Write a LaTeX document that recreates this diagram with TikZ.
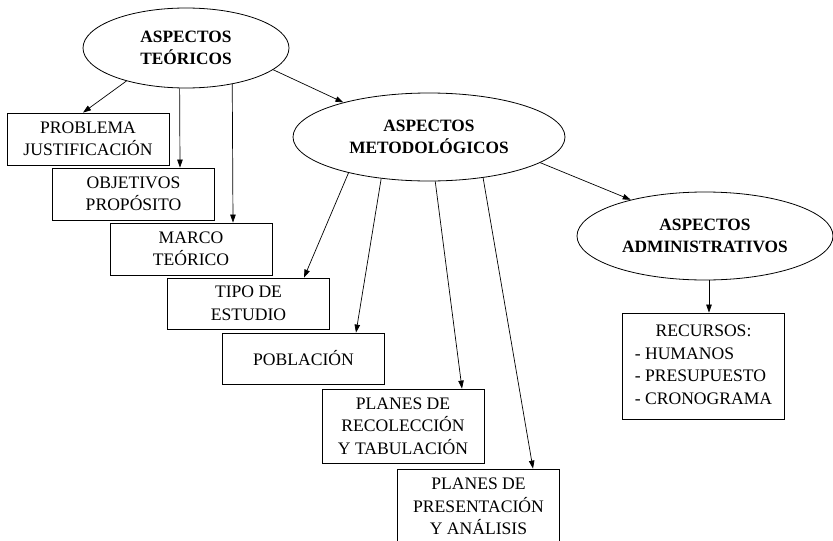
\documentclass[tikz,border=0pt]{standalone}
\usepackage{fontspec}
\setmainfont{Liberation Serif}
\usetikzlibrary{shapes.geometric,arrows.meta}
\begin{document}
\begin{tikzpicture}[x=1pt,y=-1pt,
  every node/.style={font=\fontsize{17.6}{22.5}\selectfont, align=center, inner sep=0pt},
  topic/.style={draw, line width=0.8pt, ellipse, font=\fontsize{17.3}{22.5}\selectfont\bfseries},
  item/.style={draw, line width=0.8pt, rectangle, minimum width=162pt},
  link/.style={line width=0.7pt, -{Triangle[length=8pt,width=5.5pt]}}]
\useasboundingbox (0,0) rectangle (833,541);

% main topics
\node[topic, minimum width=206pt, minimum height=80pt] (T) at (186,48) {ASPECTOS\\TEÓRICOS};
\node[topic, minimum width=272pt, minimum height=88pt] (M) at (429,137) {ASPECTOS\\METODOLÓGICOS};
\node[topic, minimum width=256pt, minimum height=88pt] (A) at (705,236) {ASPECTOS\\ADMINISTRATIVOS};

% theoretical items
\node[item, minimum height=52pt] (PROB) at (88,139) {PROBLEMA\\JUSTIFICACIÓN};
\node[item, minimum height=52pt] (OBJ) at (133.5,194) {OBJETIVOS\\PROPÓSITO};
\node[item, minimum height=52pt] (MARCO) at (191,249) {MARCO\\TEÓRICO};

% methodological items
\node[item, minimum height=51pt] (TIPO) at (248.5,303.5) {TIPO DE\\ESTUDIO};
\node[item, minimum height=51pt] (POB) at (303.5,358.5) {POBLACIÓN};
\node[item, minimum height=74pt] (RECOL) at (403,426) {PLANES DE\\RECOLECCIÓN\\Y TABULACIÓN};
\node[item, minimum height=75pt] (PRES) at (478.5,506.5) {PLANES DE\\PRESENTACIÓN\\Y ANÁLISIS};

% administrative item
\node[item, minimum height=106pt] (REC) at (703.5,366)
  {\begin{tabular}{@{}l@{}}\multicolumn{1}{@{}c@{}}{RECURSOS:}\\- HUMANOS\\- PRESUPUESTO\\- CRONOGRAMA\end{tabular}};

% connectors
\draw[link] (T.209) -- ([xshift=-5pt]PROB.north);
\draw[link] (T.261.5) -- ([xshift=46.5pt]OBJ.north);
\draw[link] (T.322.5) -- ([xshift=42pt]MARCO.north);
\draw[link] (T.346.4) -- (M.158.5);

\draw[link] (M.204.5) -- ([xshift=55.5pt]TIPO.north);
\draw[link] (M.221.8) -- ([xshift=52.5pt]POB.north);
\draw[link] (M.278) -- ([xshift=59pt]RECOL.north);
\draw[link] (M.323) -- ([xshift=54.5pt]PRES.north);
\draw[link] (M.347) -- (A.154.6);

\draw[link] ([xshift=4pt]A.south) -- ([xshift=5.5pt]REC.north);
\end{tikzpicture}
\end{document}
